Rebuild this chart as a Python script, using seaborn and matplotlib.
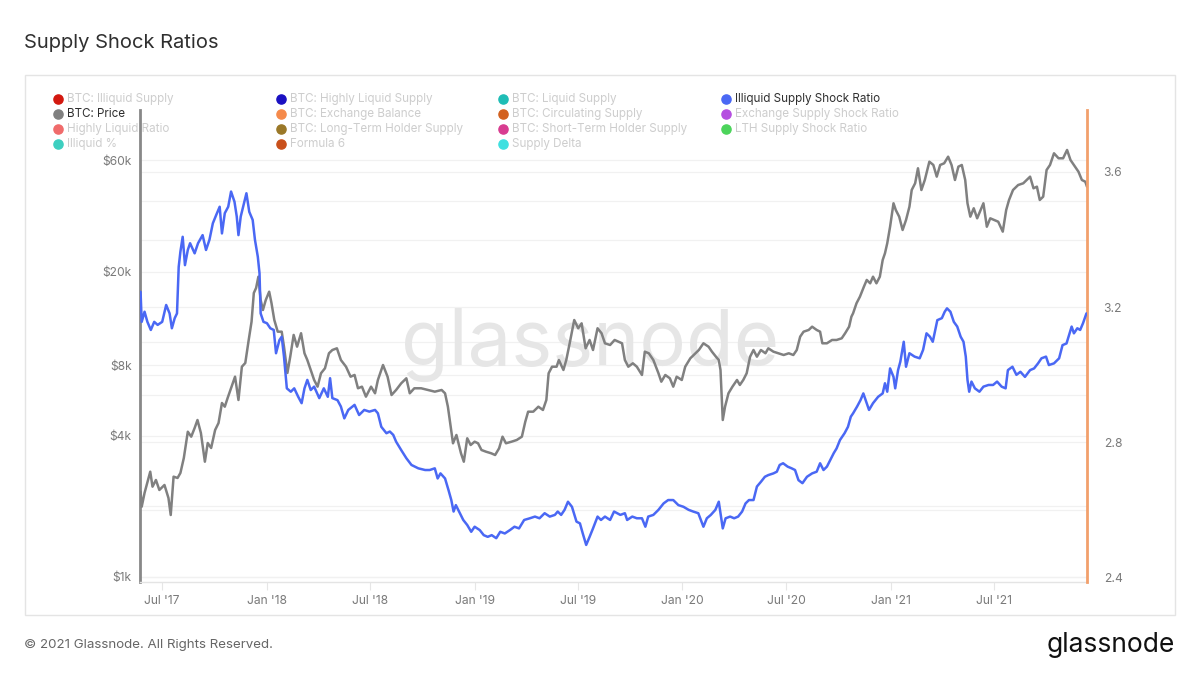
import matplotlib
matplotlib.use("Agg")
import matplotlib.pyplot as plt
import matplotlib.dates as mdates
import matplotlib.ticker as mticker
import matplotlib.transforms as mtransforms
from matplotlib.lines import Line2D
from matplotlib.patches import Rectangle
import seaborn as sns
import pandas as pd

sns.set_theme(style="white")
plt.rcParams["font.family"] = ["Inter", "DejaVu Sans"]

# ---------------- data ----------------
price_dates = [
    "2017-05-24", "2017-05-26", "2017-05-31", "2017-06-10", "2017-06-14", "2017-06-20", "2017-06-26",
    "2017-07-05", "2017-07-12", "2017-07-16", "2017-07-21", "2017-07-28", "2017-08-02", "2017-08-08",
    "2017-08-15", "2017-08-21", "2017-08-27", "2017-09-01", "2017-09-07", "2017-09-14", "2017-09-19",
    "2017-09-25", "2017-10-02", "2017-10-08", "2017-10-14", "2017-10-19", "2017-10-24", "2017-10-31",
    "2017-11-06", "2017-11-12", "2017-11-18", "2017-11-24", "2017-11-30", "2017-12-05", "2017-12-09",
    "2017-12-13", "2017-12-17", "2017-12-21", "2017-12-25", "2017-12-30", "2018-01-05", "2018-01-09",
    "2018-01-14", "2018-01-20", "2018-01-27", "2018-01-31", "2018-02-06", "2018-02-11", "2018-02-17",
    "2018-02-23", "2018-03-02", "2018-03-08", "2018-03-13", "2018-03-19", "2018-03-25", "2018-03-31",
    "2018-04-06", "2018-04-13", "2018-04-20", "2018-04-26", "2018-05-04", "2018-05-11", "2018-05-20",
    "2018-05-28", "2018-06-04", "2018-06-10", "2018-06-17", "2018-06-24", "2018-07-03", "2018-07-10",
    "2018-07-15", "2018-07-24", "2018-08-01", "2018-08-08", "2018-08-16", "2018-08-25", "2018-09-03",
    "2018-09-09", "2018-09-17", "2018-09-29", "2018-10-11", "2018-10-23", "2018-11-04", "2018-11-10",
    "2018-11-15", "2018-11-20", "2018-11-24", "2018-11-30", "2018-12-08", "2018-12-13", "2018-12-19",
    "2018-12-25", "2019-01-01", "2019-01-07", "2019-01-13", "2019-01-21", "2019-01-30", "2019-02-06",
    "2019-02-13", "2019-02-19", "2019-02-25", "2019-03-07", "2019-03-16", "2019-03-25", "2019-03-31",
    "2019-04-05", "2019-04-14", "2019-04-23", "2019-05-01", "2019-05-07", "2019-05-11", "2019-05-17",
    "2019-05-25", "2019-05-29", "2019-06-06", "2019-06-11", "2019-06-17", "2019-06-25", "2019-07-02",
    "2019-07-08", "2019-07-15", "2019-07-22", "2019-07-28", "2019-08-05", "2019-08-12", "2019-08-18",
    "2019-08-27", "2019-09-04", "2019-09-17", "2019-09-22", "2019-09-28", "2019-10-06", "2019-10-13",
    "2019-10-22", "2019-10-27", "2019-11-03", "2019-11-11", "2019-11-20", "2019-11-25", "2019-12-02",
    "2019-12-10", "2019-12-16", "2019-12-22", "2019-12-31", "2020-01-06", "2020-01-15", "2020-01-24",
    "2020-01-30", "2020-02-07", "2020-02-16", "2020-02-22", "2020-02-29", "2020-03-05", "2020-03-08",
    "2020-03-12", "2020-03-16", "2020-03-22", "2020-03-29", "2020-04-06", "2020-04-11", "2020-04-17",
    "2020-04-23", "2020-04-29", "2020-05-05", "2020-05-11", "2020-05-18", "2020-05-26", "2020-05-31",
    "2020-06-09", "2020-06-18", "2020-06-27", "2020-07-06", "2020-07-14", "2020-07-20", "2020-07-26",
    "2020-08-01", "2020-08-10", "2020-08-16", "2020-08-24", "2020-08-30", "2020-09-03", "2020-09-11",
    "2020-09-20", "2020-09-28", "2020-10-07", "2020-10-13", "2020-10-20", "2020-10-24", "2020-10-27",
    "2020-11-02", "2020-11-08", "2020-11-15", "2020-11-20", "2020-11-26", "2020-12-01", "2020-12-07",
    "2020-12-13", "2020-12-18", "2020-12-22", "2020-12-26", "2020-12-31", "2021-01-06", "2021-01-10",
    "2021-01-16", "2021-01-22", "2021-01-28", "2021-02-03", "2021-02-07", "2021-02-13", "2021-02-18",
    "2021-02-24", "2021-03-02", "2021-03-10", "2021-03-17", "2021-03-23", "2021-03-29", "2021-04-05",
    "2021-04-12", "2021-04-18", "2021-04-24", "2021-04-30", "2021-05-06", "2021-05-12", "2021-05-16",
    "2021-05-21", "2021-05-27", "2021-06-02", "2021-06-08", "2021-06-13", "2021-06-19", "2021-06-25",
    "2021-07-02", "2021-07-09", "2021-07-17", "2021-07-23", "2021-07-28", "2021-08-04", "2021-08-13",
    "2021-08-22", "2021-09-03", "2021-09-09", "2021-09-15", "2021-09-20", "2021-09-26", "2021-10-02",
    "2021-10-08", "2021-10-15", "2021-10-23", "2021-10-31", "2021-11-07", "2021-11-13", "2021-11-21",
    "2021-11-27", "2021-12-03", "2021-12-09", "2021-12-12",
]
price_values = [
    2311, 1994, 2282, 2812, 2427, 2592, 2350,
    2468, 2172, 1838, 2678, 2644, 2777, 3217,
    4164, 3966, 4319, 4672, 4112, 3102, 3728,
    3549, 4235, 4536, 5521, 5324, 5800, 6480,
    7148, 5686, 7884, 8177, 10250, 12265, 16260,
    17080, 19080, 15180, 13760, 15180, 16470, 14740,
    12470, 11120, 11120, 9596, 7413, 8698, 10770,
    9596, 10950, 8995, 8420, 7635, 6920, 6480,
    7391, 7762, 8995, 9290, 9446, 8420, 7884,
    7148, 7269, 6379, 6480, 5875, 6480, 6072,
    6920, 8017, 7148, 5971, 6273, 6699, 7036,
    6072, 6379, 6379, 6273, 6170, 6273, 6072,
    5324, 4374, 3717, 4033, 3370, 3102, 3904,
    3655, 3776, 3717, 3480, 3422, 3370, 3313,
    3538, 3966, 3717, 3776, 3839, 3966, 4595,
    5069, 5069, 5324, 5155, 5686, 7391, 7884,
    7884, 8420, 7635, 8420, 9922, 12470, 11500,
    12070, 9446, 10250, 9290, 11500, 10950, 9922,
    9757, 10250, 9922, 8420, 7884, 8152, 7884,
    7269, 9138, 8995, 8420, 7391, 6805, 7269,
    7036, 6480, 7148, 6920, 7884, 8563, 8995,
    9290, 9922, 9596, 9138, 8698, 8420, 7635,
    4672, 5324, 6072, 6480, 6920, 6590, 6920,
    7391, 8698, 9290, 8698, 9290, 8995, 9446,
    9138, 8995, 8845, 8995, 8845, 9290, 10590,
    11120, 11310, 11680, 11310, 11120, 9922, 9922,
    10250, 10250, 10420, 10950, 11680, 12880, 13320,
    14700, 15680, 17300, 18480, 17880, 19080, 17880,
    19080, 22480, 24010, 26490, 31170, 39230, 36730,
    34400, 30180, 33300, 37950, 44700, 47740, 55330,
    44700, 49320, 59020, 57150, 50950, 57150, 58100,
    62000, 57150, 49320, 56210, 57150, 49320, 39230,
    34400, 37360, 33850, 36730, 39230, 31170, 33850,
    33300, 32740, 29690, 36730, 40530, 44700, 46940,
    47740, 50950, 45460, 46180, 40530, 41860, 54410,
    57150, 64100, 61030, 61030, 66220, 60000, 56210,
    53500, 49320, 48500, 46180,
]

ratio_dates = [
    "2017-05-24", "2017-05-26", "2017-05-31", "2017-06-05", "2017-06-11", "2017-06-17", "2017-06-23",
    "2017-07-01", "2017-07-08", "2017-07-14", "2017-07-18", "2017-07-23", "2017-07-27", "2017-07-30",
    "2017-08-02", "2017-08-06", "2017-08-10", "2017-08-15", "2017-08-19", "2017-08-27", "2017-09-02",
    "2017-09-10", "2017-09-16", "2017-09-22", "2017-09-28", "2017-10-04", "2017-10-10", "2017-10-14",
    "2017-10-19", "2017-10-25", "2017-10-30", "2017-11-05", "2017-11-09", "2017-11-12", "2017-11-16",
    "2017-11-21", "2017-11-26", "2017-12-01", "2017-12-07", "2017-12-11", "2017-12-16", "2017-12-19",
    "2017-12-21", "2017-12-26", "2018-01-01", "2018-01-07", "2018-01-13", "2018-01-17", "2018-01-23",
    "2018-01-27", "2018-01-31", "2018-02-05", "2018-02-12", "2018-02-18", "2018-02-25", "2018-03-03",
    "2018-03-08", "2018-03-13", "2018-03-19", "2018-03-25", "2018-04-03", "2018-04-11", "2018-04-18",
    "2018-04-22", "2018-04-26", "2018-05-05", "2018-05-11", "2018-05-17", "2018-05-24", "2018-06-04",
    "2018-06-12", "2018-06-21", "2018-06-30", "2018-07-10", "2018-07-15", "2018-07-21", "2018-07-30",
    "2018-08-05", "2018-08-11", "2018-08-16", "2018-08-25", "2018-09-03", "2018-09-12", "2018-09-24",
    "2018-10-06", "2018-10-14", "2018-10-23", "2018-10-28", "2018-11-02", "2018-11-10", "2018-11-16",
    "2018-11-21", "2018-11-25", "2018-11-29", "2018-12-06", "2018-12-12", "2018-12-19", "2018-12-26",
    "2019-01-01", "2019-01-10", "2019-01-17", "2019-01-24", "2019-01-31", "2019-02-08", "2019-02-15",
    "2019-02-23", "2019-03-04", "2019-03-12", "2019-03-20", "2019-03-29", "2019-04-08", "2019-04-17",
    "2019-04-25", "2019-05-04", "2019-05-13", "2019-05-22", "2019-05-27", "2019-06-02", "2019-06-08",
    "2019-06-14", "2019-06-21", "2019-06-29", "2019-07-05", "2019-07-10", "2019-07-16", "2019-07-22",
    "2019-07-28", "2019-08-05", "2019-08-11", "2019-08-18", "2019-08-27", "2019-09-03", "2019-09-14",
    "2019-09-22", "2019-09-26", "2019-10-05", "2019-10-13", "2019-10-22", "2019-10-28", "2019-11-02",
    "2019-11-11", "2019-11-20", "2019-11-29", "2019-12-07", "2019-12-16", "2019-12-25", "2020-01-03",
    "2020-01-12", "2020-01-20", "2020-01-29", "2020-02-07", "2020-02-13", "2020-02-20", "2020-02-28",
    "2020-03-05", "2020-03-08", "2020-03-12", "2020-03-17", "2020-03-25", "2020-04-01", "2020-04-08",
    "2020-04-15", "2020-04-21", "2020-04-27", "2020-05-05", "2020-05-11", "2020-05-18", "2020-05-25",
    "2020-05-31", "2020-06-09", "2020-06-15", "2020-06-20", "2020-06-26", "2020-07-04", "2020-07-11",
    "2020-07-17", "2020-07-23", "2020-07-30", "2020-08-07", "2020-08-16", "2020-08-24", "2020-08-30",
    "2020-09-05", "2020-09-11", "2020-09-17", "2020-09-23", "2020-09-28", "2020-10-04", "2020-10-12",
    "2020-10-18", "2020-10-23", "2020-10-27", "2020-11-03", "2020-11-09", "2020-11-14", "2020-11-20",
    "2020-11-24", "2020-12-01", "2020-12-10", "2020-12-18", "2020-12-22", "2020-12-26", "2020-12-31",
    "2021-01-06", "2021-01-09", "2021-01-14", "2021-01-18", "2021-01-24", "2021-01-28", "2021-02-03",
    "2021-02-12", "2021-02-21", "2021-02-27", "2021-03-05", "2021-03-11", "2021-03-16", "2021-03-24",
    "2021-04-01", "2021-04-06", "2021-04-10", "2021-04-16", "2021-04-22", "2021-04-28", "2021-05-04",
    "2021-05-09", "2021-05-13", "2021-05-16", "2021-05-19", "2021-05-23", "2021-05-29", "2021-06-06",
    "2021-06-13", "2021-06-22", "2021-06-30", "2021-07-07", "2021-07-15", "2021-07-22", "2021-07-26",
    "2021-08-03", "2021-08-10", "2021-08-17", "2021-08-25", "2021-09-03", "2021-09-10", "2021-09-17",
    "2021-09-23", "2021-10-01", "2021-10-06", "2021-10-15", "2021-10-24", "2021-10-30", "2021-11-06",
    "2021-11-15", "2021-11-19", "2021-11-25", "2021-11-30", "2021-12-05", "2021-12-11",
]
ratio_values = [
    3.245, 3.156, 3.186, 3.156, 3.132, 3.156, 3.147,
    3.156, 3.206, 3.181, 3.137, 3.167, 3.181, 3.319,
    3.364, 3.408, 3.324, 3.369, 3.389, 3.359, 3.389,
    3.413, 3.369, 3.399, 3.448, 3.473, 3.497, 3.418,
    3.478, 3.497, 3.542, 3.512, 3.468, 3.413, 3.468,
    3.502, 3.537, 3.482, 3.458, 3.399, 3.349, 3.300,
    3.181, 3.156, 3.152, 3.137, 3.132, 3.063, 3.102,
    3.112, 3.053, 2.959, 2.949, 2.959, 2.934, 2.915,
    2.959, 2.984, 2.954, 2.964, 2.930, 2.959, 2.934,
    2.989, 2.930, 2.924, 2.905, 2.870, 2.895, 2.910,
    2.880, 2.895, 2.890, 2.895, 2.885, 2.845, 2.826,
    2.831, 2.821, 2.801, 2.776, 2.752, 2.732, 2.722,
    2.717, 2.717, 2.722, 2.692, 2.707, 2.692, 2.658,
    2.628, 2.594, 2.613, 2.589, 2.569, 2.554, 2.534,
    2.549, 2.539, 2.524, 2.519, 2.524, 2.515, 2.534,
    2.529, 2.539, 2.549, 2.544, 2.569, 2.574, 2.579,
    2.574, 2.589, 2.579, 2.584, 2.594, 2.584, 2.599,
    2.623, 2.608, 2.564, 2.559, 2.529, 2.495, 2.519,
    2.544, 2.579, 2.569, 2.579, 2.569, 2.594, 2.584,
    2.589, 2.569, 2.579, 2.574, 2.574, 2.549, 2.579,
    2.584, 2.599, 2.618, 2.628, 2.628, 2.613, 2.608,
    2.599, 2.594, 2.589, 2.549, 2.574, 2.584, 2.599,
    2.623, 2.589, 2.544, 2.574, 2.579, 2.574, 2.579,
    2.594, 2.618, 2.628, 2.628, 2.668, 2.682, 2.697,
    2.702, 2.707, 2.712, 2.732, 2.737, 2.727, 2.722,
    2.717, 2.687, 2.678, 2.697, 2.707, 2.712, 2.737,
    2.717, 2.727, 2.747, 2.767, 2.781, 2.806, 2.826,
    2.845, 2.875, 2.885, 2.905, 2.924, 2.944, 2.915,
    2.895, 2.915, 2.934, 2.944, 2.974, 2.949, 3.018,
    2.993, 2.959, 3.013, 3.038, 3.097, 3.023, 3.063,
    3.053, 3.048, 3.073, 3.122, 3.112, 3.097, 3.161,
    3.167, 3.186, 3.196, 3.186, 3.156, 3.142, 3.112,
    3.097, 3.053, 2.984, 2.949, 2.979, 2.959, 2.949,
    2.964, 2.969, 2.969, 2.979, 2.964, 2.959, 3.013,
    3.023, 2.999, 3.008, 2.993, 3.013, 3.018, 3.033,
    3.048, 3.053, 3.028, 3.033, 3.048, 3.087, 3.092,
    3.142, 3.122, 3.137, 3.132, 3.152, 3.181,
]

left_ticks = [1000, 4000, 8000, 20000, 60000]
left_labels = ["$1k", "$4k", "$8k", "$20k", "$60k"]
left_grid = [1000, 2000, 4000, 6000, 8000, 10000, 20000, 40000, 60000]
right_ticks = [2.4, 2.8, 3.2, 3.6]
right_labels = ["2.4", "2.8", "3.2", "3.6"]
right_grid = [2.4, 2.6, 2.8, 3.0, 3.2, 3.4, 3.6]

legend_columns = [
    ["BTC: Illiquid Supply", "BTC: Price", "Highly Liquid Ratio", "Illiquid %"],
    ["BTC: Highly Liquid Supply", "BTC: Exchange Balance", "BTC: Long-Term Holder Supply", "Formula 6"],
    ["BTC: Liquid Supply", "BTC: Circulating Supply", "BTC: Short-Term Holder Supply", "Supply Delta"],
    ["Illiquid Supply Shock Ratio", "Exchange Supply Shock Ratio", "LTH Supply Shock Ratio"],
]
legend_colors = [
    ["#d3180f", "#808080", "#f06b6b", "#3dcfc0"],
    ["#1a10c2", "#f58a4b", "#9a7828", "#c9501b"],
    ["#1fbdb6", "#d2611f", "#d83c90", "#3fe0e0"],
    ["#4a68f4", "#b54ee0", "#4cd45b"],
]
active_series = ["BTC: Price", "Illiquid Supply Shock Ratio"]

price_color = "#808080"
ratio_color = "#4a68f4"

# ---------------- figure ----------------
W, H = 1200, 675
fig = plt.figure(figsize=(12, 6.75), dpi=100)
fig.patch.set_facecolor("white")

def fx(px):
    return px / W

def fy(py):
    return 1 - py / H

# outer panel frame
fig.add_artist(Rectangle((fx(25), fy(615)), fx(1175) - fx(25), fy(75) - fy(615),
                         transform=fig.transFigure, fill=False, edgecolor="#e4e4e4", lw=1.0, zorder=0))

ax = fig.add_axes([fx(140), fy(582), fx(1087) - fx(140), fy(110) - fy(582)])
ax.set_facecolor("none")
ax2 = ax.twinx()

price_df = pd.DataFrame({"date": pd.to_datetime(price_dates), "price": price_values})
ratio_df = pd.DataFrame({"date": pd.to_datetime(ratio_dates), "ratio": ratio_values})

ax.set_yscale("log")
sns.lineplot(data=price_df, x="date", y="price", ax=ax, color=price_color, lw=1.8, zorder=3)
sns.lineplot(data=ratio_df, x="date", y="ratio", ax=ax2, color=ratio_color, lw=1.8, zorder=3)

ax.set_ylim(952, 98050)
ax2.set_ylim(2.3852, 3.7837)
ax.set_xlim(pd.Timestamp("2017-05-23"), pd.Timestamp("2021-12-12"))

# grid lines
for v in left_grid:
    ax.axhline(v, color="#f1f1f1", lw=0.9, zorder=0)
blend = mtransforms.blended_transform_factory(ax.transAxes, ax2.transData)
for v in right_grid:
    ax.plot([0, 1], [v, v], transform=blend, color="#f1f1f1", lw=0.9, zorder=0)

# watermark
ax.text(fx(590), fy(345), "glassnode", transform=fig.transFigure, fontsize=56,
        color="#e6e6e6", ha="center", va="center", zorder=1)

# axes styling
ax.set_xlabel("")
ax.set_ylabel("")
ax2.set_xlabel("")
ax2.set_ylabel("")
ax.set_yticks(left_ticks)
ax.set_yticklabels(left_labels)
ax.yaxis.set_minor_locator(mticker.NullLocator())
ax2.set_yticks(right_ticks)
ax2.set_yticklabels(right_labels)
ax2.yaxis.set_minor_locator(mticker.NullLocator())

ax.xaxis.set_major_locator(mdates.MonthLocator(bymonth=[1, 7]))
ax.xaxis.set_major_formatter(mdates.DateFormatter("%b '%y"))
ax.xaxis.set_minor_locator(mticker.NullLocator())

tick_color = "#7a7a7a"
ax.tick_params(axis="y", which="both", length=0, pad=6, labelsize=8.7, labelcolor=tick_color, left=True)
ax2.tick_params(axis="y", which="both", length=0, pad=12, labelsize=8.7, labelcolor=tick_color, right=True)
ax.tick_params(axis="x", which="major", length=6, width=0.8, color="#e6e6e6", pad=3.5,
               labelsize=8.7, labelcolor=tick_color, bottom=True)
ax2.tick_params(axis="x", which="both", bottom=False, top=False)

for s in ["top", "right"]:
    ax.spines[s].set_visible(False)
ax.spines["left"].set_color("#888888")
ax.spines["left"].set_linewidth(2.0)
ax.spines["bottom"].set_color("#e4e4e4")
ax.spines["bottom"].set_linewidth(1.0)
for s in ["top", "left", "bottom"]:
    ax2.spines[s].set_visible(False)
ax2.spines["right"].set_color("#f2a06c")
ax2.spines["right"].set_linewidth(2.0)

# title
fig.text(fx(24), fy(43), "Supply Shock Ratios", fontsize=14.5, color="#2f2f2f", ha="left", va="center")

# legend (manual, four fixed-width columns)
col_x = [58, 281, 503, 726]
row_y = [99, 114, 129, 144]
for ci, (labels, colors) in enumerate(zip(legend_columns, legend_colors)):
    for ri, (lab, col) in enumerate(zip(labels, colors)):
        x0, y0 = col_x[ci], row_y[ri]
        fig.add_artist(Line2D([fx(x0)], [fy(y0)], marker="o", markersize=6.6, color=col,
                              linestyle="none", transform=fig.transFigure, zorder=5))
        fig.text(fx(x0 + 9), fy(y0), lab, fontsize=8.4,
                 color="#2f2f2f" if lab in active_series else "#cdcdcd",
                 ha="left", va="center", zorder=5)

# footer
fig.text(fx(24), fy(645), "\u00a9 2021 Glassnode. All Rights Reserved.", fontsize=9.6,
         color="#666666", ha="left", va="center")
fig.text(fx(1175), fy(645), "glassnode", fontsize=19, color="#111111", ha="right", va="center")

fig.savefig("out.png", dpi=100, facecolor="white")
